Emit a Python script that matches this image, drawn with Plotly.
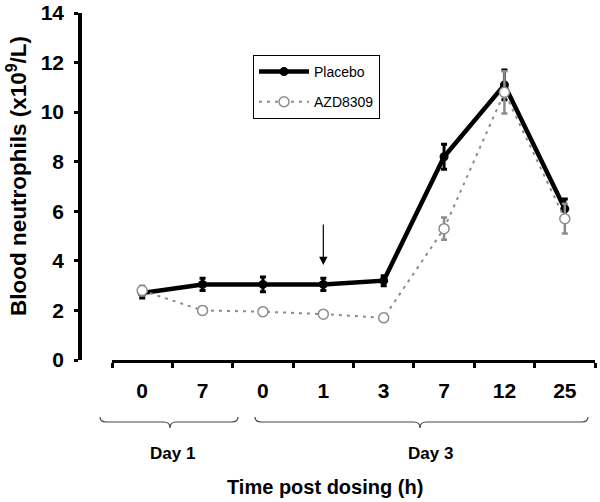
import plotly.graph_objects as go

# data
time_labels = ["0", "7", "0", "1", "3", "7", "12", "25"]
placebo = [2.7, 3.05, 3.05, 3.05, 3.2, 8.2, 11.1, 6.1]
placebo_err = [0.2, 0.25, 0.3, 0.25, 0.2, 0.5, 0.6, 0.4]
azd = [2.8, 2.0, 1.95, 1.85, 1.7, 5.3, 10.8, 5.7]
azd_err = [0.2, 0.15, 0.15, 0.1, 0.1, 0.45, 0.85, 0.6]
day_groups = [("Day 1", 0, 1), ("Day 3", 2, 7)]

pos = list(range(len(time_labels)))
FONT = "Arial, Liberation Sans, sans-serif"

# plot area in pixels (for placing decorations)
L, R, T, B = 80, 595, 13, 360
W, H = 600, 502


def px(x):
    return (x - L) / (R - L)


def py(y):
    return (B - y) / (B - T)


def brace(x0, x1, xc):
    yt, ym, yb = py(417), py(422), py(428)
    a, b, c = px(x0), px(x1), px(xc)
    r = 0.012
    return (f"M {a},{yt} Q {a},{ym} {a + r},{ym} L {c - r},{ym} "
            f"Q {c},{ym} {c},{yb} Q {c},{ym} {c + r},{ym} "
            f"L {b - r},{ym} Q {b},{ym} {b},{yt}")


fig = go.Figure()
fig.add_trace(go.Scatter(
    x=pos, y=placebo, name="Placebo", mode="lines+markers",
    line=dict(color="black", width=4.5),
    marker=dict(color="black", size=9),
    error_y=dict(type="data", array=placebo_err, color="black", thickness=3, width=3),
    legendgroup="a"))
fig.add_trace(go.Scatter(
    x=pos, y=azd, name="AZD8309", mode="lines+markers",
    line=dict(color="#8c8c8c", width=2, dash="3px,5px"),
    marker=dict(color="white", size=10, line=dict(color="#8c8c8c", width=1.5)),
    error_y=dict(type="data", array=azd_err, color="#8c8c8c", thickness=2.5, width=3),
    legendgroup="b"))
# carrier for the time labels axis
fig.add_trace(go.Scatter(x=[None], y=[None], xaxis="x2", showlegend=False, hoverinfo="skip"))

fig.update_layout(
    width=W, height=H,
    margin=dict(l=L, r=W - R, t=T, b=H - B, autoexpand=False),
    plot_bgcolor="white", paper_bgcolor="white",
    showlegend=True,
    legend=dict(x=px(253), y=py(55), xanchor="left", yanchor="top",
                bordercolor="black", borderwidth=1, bgcolor="white",
                font=dict(family=FONT, size=14, color="black"),
                tracegroupgap=9, itemwidth=50),
    xaxis=dict(domain=[px(112), 1], range=[-0.5, 7.5], automargin=False,
               showline=True, linecolor="black", linewidth=3,
               tickvals=[p - 0.5 for p in pos] + [7.5], ticks="outside",
               ticklen=5, tickwidth=3, tickcolor="black",
               showticklabels=False, showgrid=False, zeroline=False),
    xaxis2=dict(overlaying="x", side="bottom", range=[-0.5, 7.5], automargin=False,
                tickvals=pos, ticktext=time_labels, ticks="",
                ticklabelstandoff=16, ticklabeloverflow="allow",
                tickfont=dict(family=FONT, size=21, color="black", weight="bold"),
                showgrid=False, zeroline=False, showline=False),
    yaxis=dict(anchor="free", position=0, range=[0, 14], dtick=2, automargin=False,
               showline=True, linecolor="black", linewidth=3.5,
               ticks="outside", ticklen=4, tickwidth=2.5, tickcolor="black",
               ticklabelstandoff=6, ticklabeloverflow="allow",
               tickfont=dict(family=FONT, size=21, color="black", weight="bold"),
               showgrid=False, zeroline=False),
)

fig.add_annotation(text="Blood neutrophils (x10<sup>9</sup>/L)", textangle=-90,
                   xref="paper", yref="paper", x=px(17), y=py(176),
                   xanchor="center", yanchor="middle",
                   showarrow=False, font=dict(family=FONT, size=22.5, color="black", weight="bold"))
fig.add_annotation(text="Time post dosing (h)", xref="paper", yref="paper",
                   x=px(325), y=py(487), xanchor="center", yanchor="middle",
                   showarrow=False,
                   font=dict(family=FONT, size=20, color="black", weight="bold"))

# day braces and labels
brace_px = {"Day 1": (100, 238, 170, 172), "Day 3": (255, 588, 420, 430)}
for name, first, last in day_groups:
    x0, x1, xc, xl = brace_px[name]
    fig.add_shape(type="path", path=brace(x0, x1, xc), xref="paper", yref="paper",
                  line=dict(color="#444444", width=1.2))
    fig.add_annotation(text=name, xref="paper", yref="paper", x=px(xl), y=py(453),
                       xanchor="center", yanchor="middle", showarrow=False,
                       font=dict(family=FONT, size=17, color="black", weight="bold"))

# dosing arrow at Day 3, 1 h
fig.add_annotation(x=3, y=3.83, xref="x", yref="y", ax=0, ay=-42, text="",
                   showarrow=True, arrowhead=2, arrowsize=1.4, arrowwidth=1.2,
                   arrowcolor="black")

# drop the default page margin so the figure sits at the window's corner
fig.write_html("out.html", config={"displayModeBar": False},
               post_script="document.body.style.margin='0';")
